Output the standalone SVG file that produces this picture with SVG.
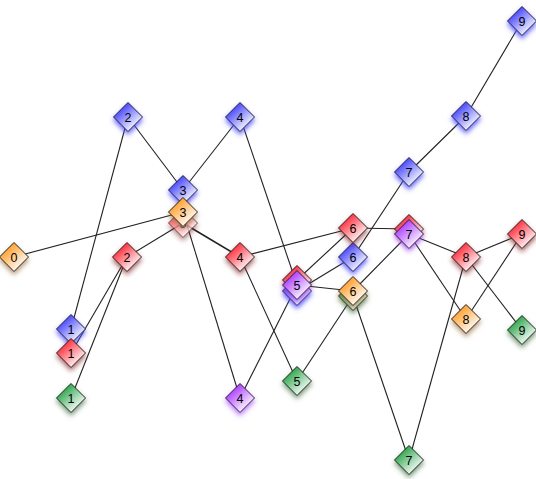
<svg xmlns="http://www.w3.org/2000/svg" xmlns:xlink="http://www.w3.org/1999/xlink" width="536" height="479" viewBox="0 0 536 479">
<defs>
<style>
.e line{stroke:#222;stroke-width:1.1;fill:none}
.d{stroke:#222;stroke-width:1}
text{font-family:"Liberation Sans",Arial,sans-serif;font-size:12.5px;text-anchor:middle;fill:#000}
.blue{fill:url(#gb);filter:url(#sb)}
.red{fill:url(#gr);filter:url(#sr)}
.orange{fill:url(#go);filter:url(#so)}
.green{fill:url(#gg);filter:url(#sg)}
.purple{fill:url(#gp);filter:url(#sp)}
</style>
<path id="dia" d="M0,-14.5 L14.5,0 L0,14.5 L-14.5,0 Z"/>
<linearGradient id="gb" x1="0.2" y1="0.15" x2="0.8" y2="0.85"><stop offset="0" stop-color="#3a3aff"/><stop offset="1" stop-color="#ffffff"/></linearGradient>
<linearGradient id="gr" x1="0.2" y1="0.15" x2="0.8" y2="0.85"><stop offset="0" stop-color="#ff2030"/><stop offset="1" stop-color="#ffffff"/></linearGradient>
<linearGradient id="go" x1="0.2" y1="0.15" x2="0.8" y2="0.85"><stop offset="0" stop-color="#ff9a20"/><stop offset="1" stop-color="#ffffff"/></linearGradient>
<linearGradient id="gg" x1="0.2" y1="0.15" x2="0.8" y2="0.85"><stop offset="0" stop-color="#20a040"/><stop offset="1" stop-color="#ffffff"/></linearGradient>
<linearGradient id="gp" x1="0.2" y1="0.15" x2="0.8" y2="0.85"><stop offset="0" stop-color="#a830ff"/><stop offset="1" stop-color="#ffffff"/></linearGradient>
<filter id="sb" x="-60%" y="-60%" width="220%" height="220%"><feGaussianBlur in="SourceAlpha" stdDeviation="2.8"/><feOffset dy="3" result="b"/><feFlood flood-color="#4a4aff" flood-opacity="0.85"/><feComposite in2="b" operator="in"/><feMerge><feMergeNode/><feMergeNode in="SourceGraphic"/></feMerge></filter>
<filter id="sr" x="-60%" y="-60%" width="220%" height="220%"><feGaussianBlur in="SourceAlpha" stdDeviation="2.8"/><feOffset dy="3" result="b"/><feFlood flood-color="#802020" flood-opacity="0.7"/><feComposite in2="b" operator="in"/><feMerge><feMergeNode/><feMergeNode in="SourceGraphic"/></feMerge></filter>
<filter id="so" x="-60%" y="-60%" width="220%" height="220%"><feGaussianBlur in="SourceAlpha" stdDeviation="2.8"/><feOffset dy="3" result="b"/><feFlood flood-color="#906030" flood-opacity="0.65"/><feComposite in2="b" operator="in"/><feMerge><feMergeNode/><feMergeNode in="SourceGraphic"/></feMerge></filter>
<filter id="sg" x="-60%" y="-60%" width="220%" height="220%"><feGaussianBlur in="SourceAlpha" stdDeviation="2.8"/><feOffset dy="3" result="b"/><feFlood flood-color="#306030" flood-opacity="0.65"/><feComposite in2="b" operator="in"/><feMerge><feMergeNode/><feMergeNode in="SourceGraphic"/></feMerge></filter>
<filter id="sp" x="-60%" y="-60%" width="220%" height="220%"><feGaussianBlur in="SourceAlpha" stdDeviation="2.8"/><feOffset dy="3" result="b"/><feFlood flood-color="#a040ff" flood-opacity="0.7"/><feComposite in2="b" operator="in"/><feMerge><feMergeNode/><feMergeNode in="SourceGraphic"/></feMerge></filter>
</defs>
<rect width="536" height="479" fill="#fff"/>
<g id="connectors" class="e">
<line x1="71" y1="329" x2="128" y2="117"/>
<line x1="128" y1="117" x2="183" y2="190"/>
<line x1="183" y1="190" x2="240" y2="117"/>
<line x1="240" y1="117" x2="297" y2="285"/>
<line x1="297" y1="291" x2="353" y2="257"/>
<line x1="353" y1="257" x2="409" y2="172"/>
<line x1="409" y1="172" x2="466" y2="116"/>
<line x1="466" y1="116" x2="522" y2="21"/>
<line x1="127" y1="257" x2="71" y2="353"/>
<line x1="127" y1="257" x2="71" y2="398"/>
<line x1="127" y1="257" x2="183" y2="223"/>
<line x1="183" y1="223" x2="240" y2="257" style="stroke-width:1.6"/>
<line x1="183" y1="212" x2="240" y2="398"/>
<line x1="240" y1="257" x2="353" y2="228"/>
<line x1="240" y1="257" x2="297" y2="381"/>
<line x1="297" y1="280" x2="353" y2="228"/>
<line x1="353" y1="228" x2="409" y2="229"/>
<line x1="409" y1="234" x2="466" y2="257"/>
<line x1="409" y1="234" x2="466" y2="319"/>
<line x1="466" y1="257" x2="522" y2="234"/>
<line x1="466" y1="257" x2="522" y2="330"/>
<line x1="466" y1="257" x2="409" y2="460"/>
<line x1="466" y1="319" x2="522" y2="234"/>
<line x1="14" y1="257" x2="183" y2="212"/>
<line x1="297" y1="285" x2="353" y2="291"/>
<line x1="353" y1="291" x2="409" y2="234"/>
<line x1="353" y1="296" x2="297" y2="381"/>
<line x1="353" y1="296" x2="409" y2="460"/>
<line x1="240" y1="398" x2="297" y2="285"/>
</g>
<g id="nodes">
<g id="g1" transform="translate(71,398)"><use xlink:href="#dia" class="d green"/><text y="4.5">1</text></g>
<g id="g5" transform="translate(297,381)"><use xlink:href="#dia" class="d green"/><text y="4.5">5</text></g>
<g id="g6" transform="translate(353,296)"><use xlink:href="#dia" class="d green"/><text y="4.5">6</text></g>
<g id="g7" transform="translate(409,460)"><use xlink:href="#dia" class="d green"/><text y="4.5">7</text></g>
<g id="g9" transform="translate(522,330)"><use xlink:href="#dia" class="d green"/><text y="4.5">9</text></g>
<g id="b1" transform="translate(71,329)"><use xlink:href="#dia" class="d blue"/><text y="4.5">1</text></g>
<g id="b2" transform="translate(128,117)"><use xlink:href="#dia" class="d blue"/><text y="4.5">2</text></g>
<g id="b3" transform="translate(183,190)"><use xlink:href="#dia" class="d blue"/><text y="4.5">3</text></g>
<g id="b4" transform="translate(240,117)"><use xlink:href="#dia" class="d blue"/><text y="4.5">4</text></g>
<g id="b5" transform="translate(297,291)"><use xlink:href="#dia" class="d blue"/><text y="4.5">5</text></g>
<g id="b6" transform="translate(353,257)"><use xlink:href="#dia" class="d blue"/><text y="4.5">6</text></g>
<g id="b7" transform="translate(409,172)"><use xlink:href="#dia" class="d blue"/><text y="4.5">7</text></g>
<g id="b8" transform="translate(466,116)"><use xlink:href="#dia" class="d blue"/><text y="4.5">8</text></g>
<g id="b9" transform="translate(522,21)"><use xlink:href="#dia" class="d blue"/><text y="4.5">9</text></g>
<g id="r1" transform="translate(71,353)"><use xlink:href="#dia" class="d red"/><text y="4.5">1</text></g>
<g id="r2" transform="translate(127,257)"><use xlink:href="#dia" class="d red"/><text y="4.5">2</text></g>
<g id="r3" transform="translate(183,223)" opacity="0.75"><use xlink:href="#dia" class="d red"/><text y="4.5">3</text></g>
<g id="r4" transform="translate(240,257)"><use xlink:href="#dia" class="d red"/><text y="4.5">4</text></g>
<g id="r5" transform="translate(297,280)"><use xlink:href="#dia" class="d red"/><text y="4.5">5</text></g>
<g id="r6" transform="translate(353,228)"><use xlink:href="#dia" class="d red"/><text y="4.5">6</text></g>
<g id="r7" transform="translate(409,229)"><use xlink:href="#dia" class="d red"/><text y="4.5">7</text></g>
<g id="r8" transform="translate(466,257)"><use xlink:href="#dia" class="d red"/><text y="4.5">8</text></g>
<g id="r9" transform="translate(522,234)"><use xlink:href="#dia" class="d red"/><text y="4.5">9</text></g>
<g id="o0" transform="translate(14,257)"><use xlink:href="#dia" class="d orange"/><text y="4.5">0</text></g>
<g id="o3" transform="translate(183,212)"><use xlink:href="#dia" class="d orange"/><text y="4.5">3</text></g>
<g id="o6" transform="translate(353,291)"><use xlink:href="#dia" class="d orange"/><text y="4.5">6</text></g>
<g id="o8" transform="translate(466,319)"><use xlink:href="#dia" class="d orange"/><text y="4.5">8</text></g>
<g id="p4" transform="translate(240,398)"><use xlink:href="#dia" class="d purple"/><text y="4.5">4</text></g>
<g id="p5" transform="translate(297,285)"><use xlink:href="#dia" class="d purple"/><text y="4.5">5</text></g>
<g id="p7" transform="translate(409,234)"><use xlink:href="#dia" class="d purple"/><text y="4.5">7</text></g>
</g>
</svg>
